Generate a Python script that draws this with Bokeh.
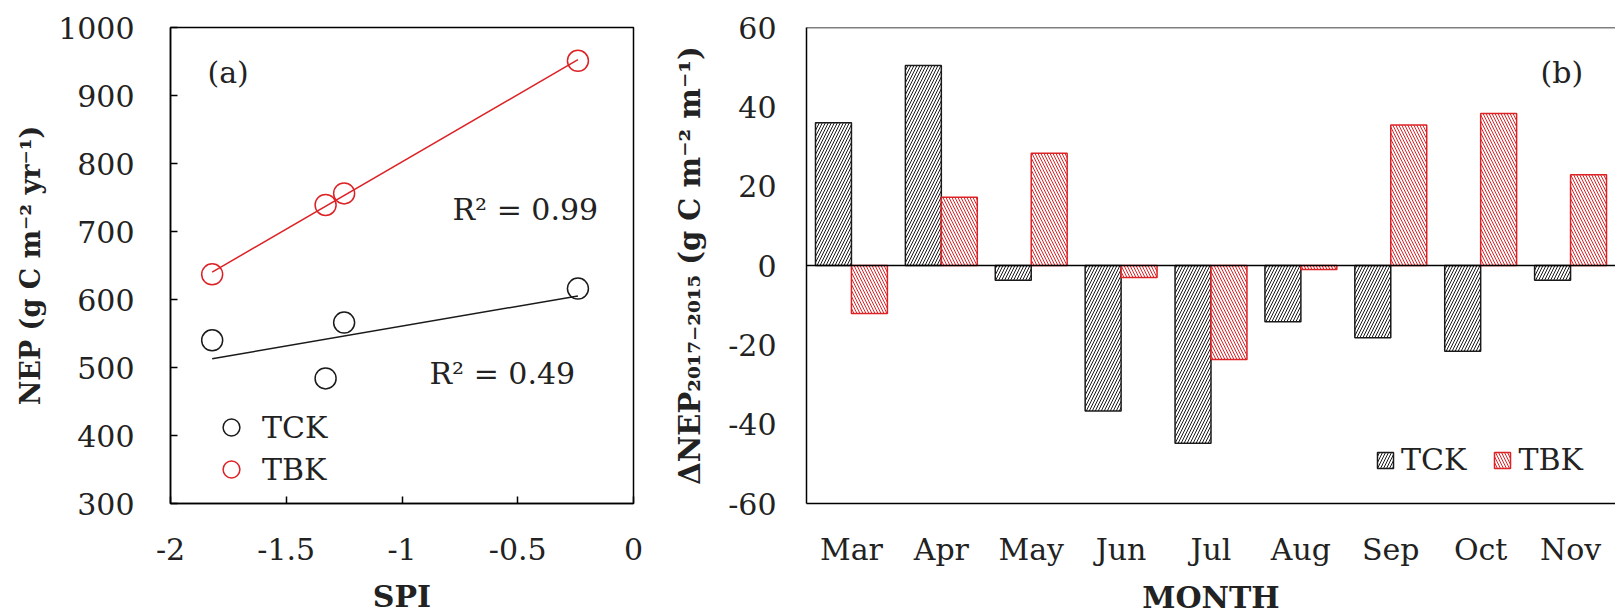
import numpy as np
from bokeh.plotting import figure
from bokeh.models import (Range1d, FactorRange, FixedTicker, Label, Legend, LegendItem,
                          Span, CustomJSTickFormatter, ColumnDataSource)
from bokeh.transform import dodge
from bokeh.layouts import row
from bokeh.embed import file_html
from bokeh.resources import INLINE

# ---------------- data ----------------
spi = [-1.82, -1.33, -1.25, -0.24]
nep_tck = [540, 484, 566, 616]
nep_tbk = [637, 739, 756, 951]
r2_tck = "R² = 0.49"
r2_tbk = "R² = 0.99"

months = ["Mar", "Apr", "May", "Jun", "Jul", "Aug", "Sep", "Oct", "Nov"]
d_tck = [36.0, 50.4, -3.7, -36.7, -44.8, -14.2, -18.2, -21.6, -3.7]
d_tbk = [-12.1, 17.2, 28.3, -3.0, -23.7, -1.0, 35.4, 38.3, 22.9]

x_ticks = [-2, -1.5, -1, -0.5, 0]
y1_ticks = [300, 400, 500, 600, 700, 800, 900, 1000]
y2_ticks = [-60, -40, -20, 0, 20, 40, 60]

RED = "#dd2226"
BLK = "#1a1a1a"
FONT = "DejaVu Serif"
FS = "30px"
PLAIN = CustomJSTickFormatter(code="return String(tick)")


def style_axes(p):
    for ax in (p.xaxis[0], p.yaxis[0]):
        ax.major_label_text_font = FONT
        ax.major_label_text_font_size = FS
        ax.major_label_text_color = "#222222"
        ax.axis_line_color = "black"
        ax.axis_line_width = 1.5
        ax.minor_tick_line_color = None
        ax.axis_label_text_font = FONT
        ax.axis_label_text_font_size = FS
        ax.axis_label_text_font_style = "bold"
        ax.axis_label_text_color = "#222222"
    p.yaxis.axis_label_text_font_size = "27px"
    p.xgrid.visible = False
    p.ygrid.visible = False
    p.background_fill_color = "white"
    p.border_fill_color = "white"


# ---------------- panel (a) ----------------
p1 = figure(frame_width=463, frame_height=476,
            x_range=Range1d(-2, 0), y_range=Range1d(300, 1000),
            output_backend="svg", toolbar_location=None,
            min_border_left=170, min_border_right=17,
            min_border_top=27, min_border_bottom=108)
style_axes(p1)
p1.outline_line_color = "black"
p1.outline_line_width = 1.5
p1.outline_line_alpha = 1.0

p1.xaxis.ticker = FixedTicker(ticks=x_ticks)
p1.xaxis.formatter = PLAIN
p1.yaxis.ticker = FixedTicker(ticks=y1_ticks)
p1.yaxis.formatter = PLAIN
for ax in (p1.xaxis[0], p1.yaxis[0]):
    ax.major_tick_in = 7
    ax.major_tick_out = 0
    ax.major_tick_line_color = "black"
    ax.major_tick_line_width = 1.5
p1.xaxis.major_label_standoff = 34
p1.yaxis.major_label_standoff = 36
p1.xaxis.axis_label = "SPI"
p1.xaxis.axis_label_standoff = 16
p1.yaxis.axis_label = "NEP (g C m⁻² yr⁻¹)"
p1.yaxis.axis_label_standoff = 9

# regression lines computed from the data
for ys, col in ((nep_tck, BLK), (nep_tbk, RED)):
    k, b = np.polyfit(spi, ys, 1)
    xs = [min(spi), max(spi)]
    p1.line(xs, [k * x + b for x in xs], line_color=col, line_width=1.5)

r_tck = p1.scatter(spi, nep_tck, marker="circle", size=21, fill_color=None,
                   line_color=BLK, line_width=1.5)
r_tbk = p1.scatter(spi, nep_tbk, marker="circle", size=21, fill_color=None,
                   line_color=RED, line_width=1.5)

leg1 = Legend(items=[LegendItem(label="TCK", renderers=[r_tck]),
                     LegendItem(label="TBK", renderers=[r_tbk])],
              location=(40, 13), orientation="vertical",
              glyph_width=42, glyph_height=42, spacing=0, padding=0, margin=0,
              label_standoff=10, label_text_font=FONT, label_text_font_size=FS,
              label_text_color="#222222", border_line_color=None,
              background_fill_alpha=0)
p1.add_layout(leg1, "center")


def slabel(p, text, x, y, **kw):
    opts = dict(x=x, y=y, x_units="screen", y_units="screen", text=text,
                text_font=FONT, text_font_size=FS, text_color="#222222",
                text_baseline="middle", text_align="left")
    opts.update(kw)
    p.add_layout(Label(**opts))


slabel(p1, "(a)", 37, 431)
slabel(p1, r2_tbk, 282, 294)
slabel(p1, r2_tck, 259, 130)

# ---------------- panel (b) ----------------
src = ColumnDataSource(dict(month=months, tck=d_tck, tbk=d_tbk))
p2 = figure(frame_width=809, frame_height=476,
            x_range=FactorRange(factors=months, range_padding=0),
            y_range=Range1d(-60, 60),
            output_backend="svg", toolbar_location=None,
            min_border_left=156, min_border_right=0,
            min_border_top=27, min_border_bottom=108)
style_axes(p2)
p2.outline_line_color = None
p2.yaxis.ticker = FixedTicker(ticks=y2_ticks)
p2.yaxis.formatter = PLAIN
for ax in (p2.xaxis[0], p2.yaxis[0]):
    ax.major_tick_in = 0
    ax.major_tick_out = 0
    ax.major_tick_line_color = None
p2.xaxis.major_label_standoff = 28
p2.yaxis.major_label_standoff = 30
p2.xaxis.axis_label = "MONTH"
p2.xaxis.axis_label_standoff = 10
p2.yaxis.axis_label = "ΔNEP₂₀₁₇₋₂₀₁₅ (g C m⁻² m⁻¹)"
p2.yaxis.axis_label_text_font_size = "29px"
p2.yaxis.axis_label_standoff = 18

b_tck = p2.vbar(x=dodge("month", -0.2, range=p2.x_range), top="tck", bottom=0,
                width=0.4, source=src, fill_color="white", line_color=BLK,
                line_width=1.5, hatch_pattern="/", hatch_color=BLK,
                hatch_scale=6, hatch_weight=1)
b_tbk = p2.vbar(x=dodge("month", 0.2, range=p2.x_range), top="tbk", bottom=0,
                width=0.4, source=src, fill_color="white", line_color=RED,
                line_width=1.5, hatch_pattern="\\", hatch_color=RED,
                hatch_scale=6, hatch_weight=1)

p2.add_layout(Span(location=0, dimension="width", line_color="black", line_width=1.5))
p2.add_layout(Span(location=60, dimension="width", line_color="black", line_width=1.5))

leg2 = Legend(items=[LegendItem(label="TCK", renderers=[b_tck]),
                     LegendItem(label="TBK", renderers=[b_tbk])],
              location=(569, 26), orientation="horizontal",
              glyph_width=20, glyph_height=20, spacing=26, padding=0, margin=0,
              label_standoff=6, label_text_font=FONT, label_text_font_size=FS,
              label_text_color="#222222", border_line_color=None,
              background_fill_alpha=0)
p2.add_layout(leg2, "center")

slabel(p2, "(b)", 734, 431)

layout = row(p1, p2, spacing=0)
open("out.html", "w").write(file_html(layout, INLINE))
